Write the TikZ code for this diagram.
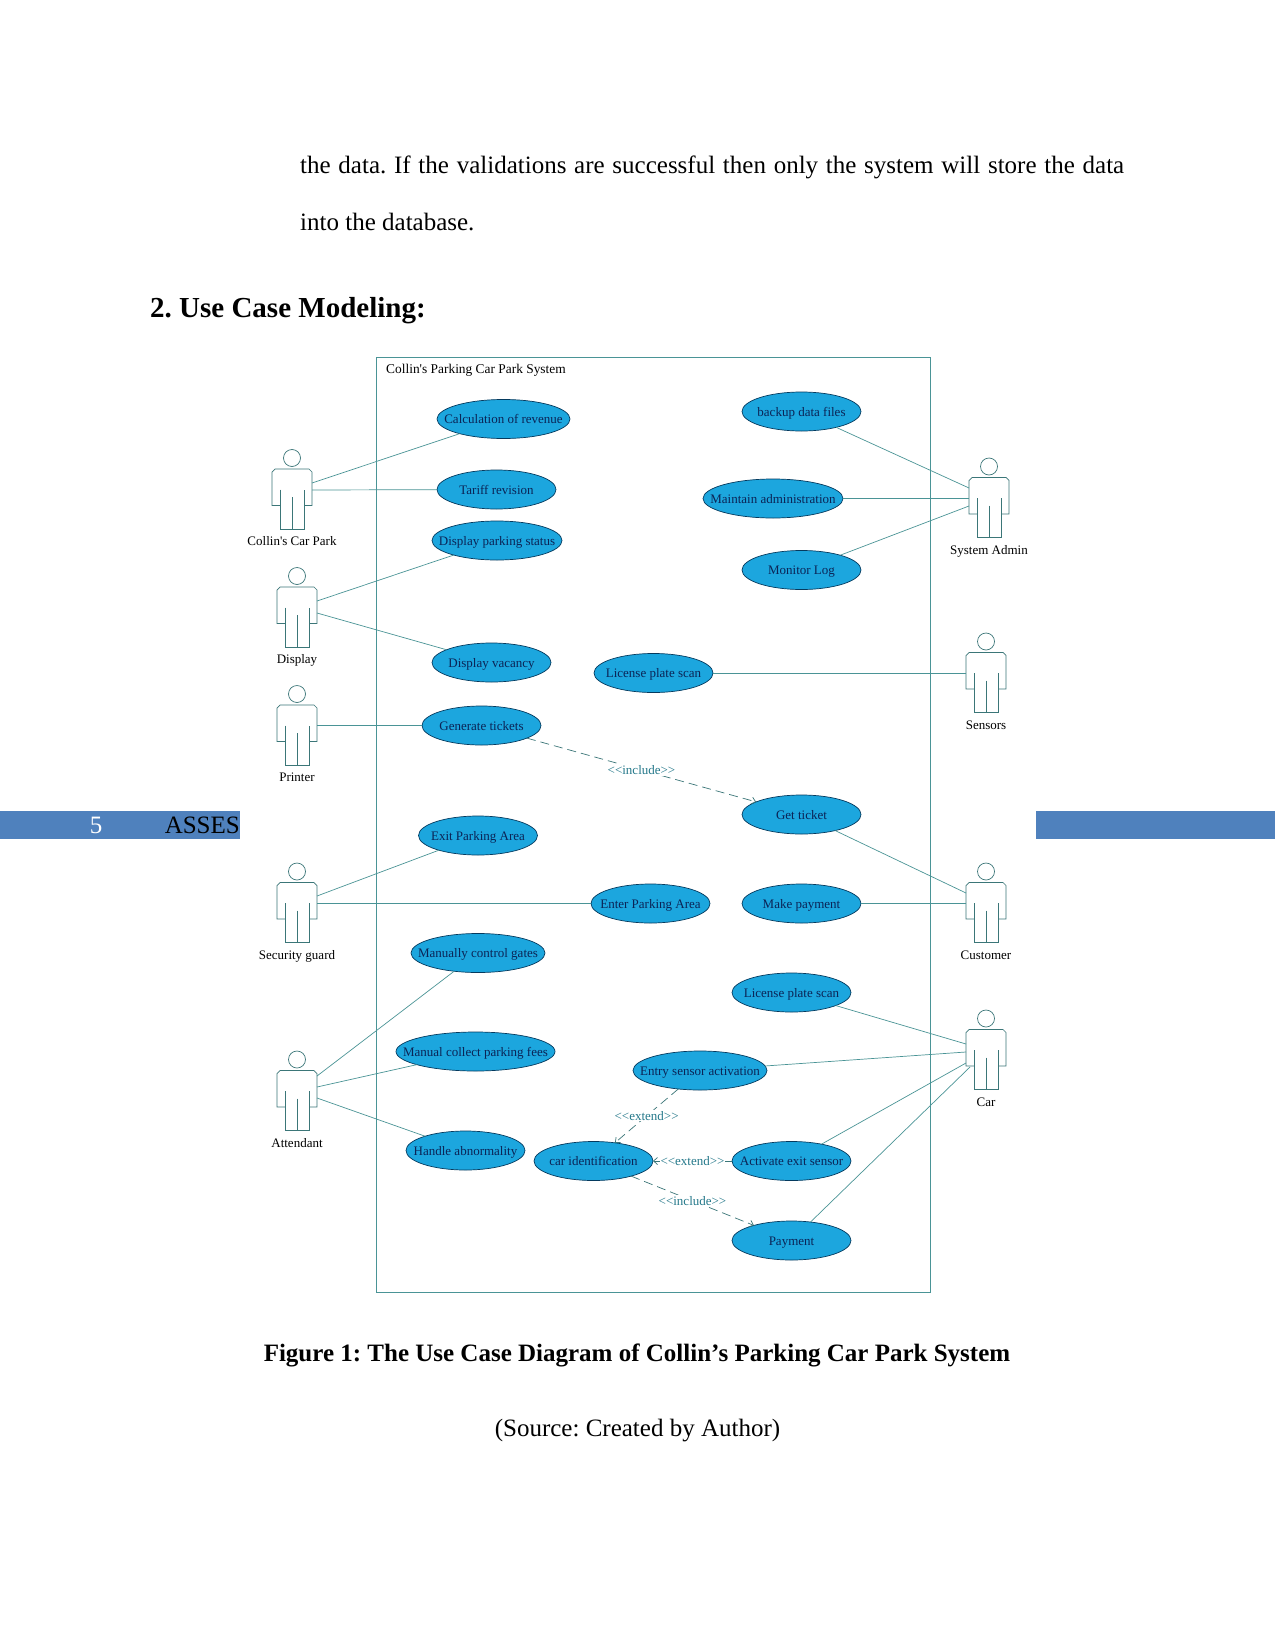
\documentclass[tikz,border=0pt]{standalone}
\usepackage{fontspec}
\setmainfont{Liberation Serif}
\newfontfamily\umlfont{Liberation Serif}
\usepackage{xcolor}
\usepackage{tikz}
\usetikzlibrary{arrows.meta, positioning, shapes.geometric}
\frenchspacing

\definecolor{umlline}{HTML}{4A9496}
\definecolor{umlfill}{HTML}{1CA6DE}
\definecolor{umlstroke}{HTML}{053A5E}
\definecolor{umltext}{HTML}{0B2456}
\definecolor{umlnote}{HTML}{24788A}
\definecolor{bandblue}{HTML}{4F81BD}

% stick figure: name, x, y, caption
\newcommand{\actorman}[4]{
    \node (#1) [actorbox] at (#2,#3) {};
    \node (#1name) [actorname, below=6.5pt of #1] {#4};
    \draw[actorline, shift={(#2,#3)}] (-12,-9.8) -- (-12,29.5) -- (12,29.5) -- (12,-9.8);
    \draw[actorline, shift={(#2,#3)}] (-12,6) -- (-20,6) -- (-20,-27.5) -- (-17,-30.5) -- (17,-30.5) -- (20,-27.5) -- (20,6) -- (12,6);
    \draw[actorline, shift={(#2,#3)}] (0,-2.5) -- (0,29.5);
    \draw[actorline, shift={(#2,#3)}] (0,-41.5) circle[radius=8.5];
}

\begin{document}
\begin{tikzpicture}[x=1pt, y=-1pt, >={Straight Barb[length=4pt,width=7pt]},
    usecase/.style={draw=umlstroke, fill=umlfill, ellipse, line width=0.7pt, text=umltext, font=\umlfont\fontsize{13}{15}\selectfont, text height=10.5pt, text depth=1.5pt, minimum width=119pt, minimum height=39pt, inner xsep=-32pt, inner ysep=0pt, outer sep=0pt},
    actorbox/.style={rectangle, minimum width=40pt, minimum height=61pt, inner sep=0pt, outer sep=0pt},
    actorname/.style={font=\umlfont\fontsize{13}{15}\selectfont, text height=9pt, text depth=3pt, inner sep=0pt},
    actorline/.style={draw=umlline!80!black, line width=0.7pt},
    assoc/.style={draw=umlline, line width=0.7pt},
    depend/.style={draw=umlline!80!black, line width=0.7pt, dash pattern=on 9pt off 5pt, ->},
    stereotype/.style={fill=white, text=umlnote, font=\umlfont\fontsize{13}{15}\selectfont, inner xsep=1pt, inner ysep=1pt},
    bodytext/.style={anchor=base west, inner sep=0pt, font=\fontsize{25}{30}\selectfont},
    band/.style={fill=bandblue, draw=none}]

    % Page
    \fill[white] (0,0) rectangle (1275,1651);
    \useasboundingbox (0,0) rectangle (1275,1651);
    \node (line1) [bodytext] at (300,173) {\makebox[824pt][s]{the data. If the validations are successful then only the system will store the data}};
    \node (line2) [bodytext] at (300,230) {into the database.};
    \node (heading) [bodytext, font=\bfseries\fontsize{29}{34}\selectfont] at (150,317) {2. Use Case Modeling:};
    \node (caption) [bodytext, anchor=base, font=\bfseries\fontsize{25}{30}\selectfont] at (637,1361) {Figure 1: The Use Case Diagram of Collin’s Parking Car Park System};
    \node (source) [bodytext, anchor=base] at (637.5,1436) {(Source: Created by Author)};

    % Footer band
    \fill[band] (0,811) rectangle (240,839);
    \fill[band] (1036,811) rectangle (1275,839);
    \node (pageno) [bodytext, anchor=base, text=white] at (96,833) {5};
    \node (footer) [bodytext, anchor=base east] at (240,833) {ASSES};

    % System box
    \node (system) [draw=umlline, line width=0.9pt, rectangle, minimum width=554pt, minimum height=935pt, outer sep=0pt] at (653,824.5) {};
    \node (systemname) [anchor=west, inner sep=0pt, font=\umlfont\fontsize{13.4}{15}\selectfont] at (386,370) {Collin's Parking Car Park System};

    % Actors
    \actorman{collin}{292}{499.5}{Collin's Car Park}
    \actorman{display}{297}{617.5}{Display}
    \actorman{printer}{297}{735.5}{Printer}
    \actorman{guard}{297}{913}{Security guard}
    \actorman{attendant}{297}{1101}{Attendant}
    \actorman{admin}{989}{508}{System Admin}
    \actorman{sensors}{986}{683}{Sensors}
    \actorman{customer}{986}{913}{Customer}
    \actorman{car}{986}{1060}{Car}

    % Use cases
    \node (revenue) [usecase, minimum width=133pt] at (503.5,419) {Calculation of revenue};
    \node (tariff) [usecase] at (496.5,489.5) {Tariff revision};
    \node (status) [usecase, minimum width=130pt] at (497,540.5) {Display parking status};
    \node (vacancy) [usecase] at (491.5,662.5) {Display vacancy};
    \node (tickets) [usecase] at (481.5,725.5) {Generate tickets};
    \node (exitarea) [usecase] at (478,835.5) {Exit Parking Area};
    \node (enterarea) [usecase] at (650.5,903.5) {Enter Parking Area};
    \node (gates) [usecase, minimum width=134pt] at (478,953) {Manually control gates};
    \node (fees) [usecase, minimum width=159pt] at (475.5,1051.5) {Manual collect parking fees};
    \node (abnormal) [usecase] at (465.5,1150.5) {Handle abnormality};
    \node (backup) [usecase] at (801.5,411.5) {backup data files};
    \node (maintain) [usecase, minimum width=140pt] at (773,498.5) {Maintain administration};
    \node (monitor) [usecase] at (801.5,570) {Monitor Log};
    \node (scan) [usecase] at (653.5,673) {License plate scan};
    \node (ticket) [usecase] at (801.5,814.5) {Get ticket};
    \node (payment) [usecase] at (801.5,903.5) {Make payment};
    \node (carscan) [usecase] at (791.5,992.5) {License plate scan};
    \node (entry) [usecase, minimum width=134pt] at (700,1070.5) {Entry sensor activation};
    \node (identify) [usecase] at (593.5,1161) {car identification};
    \node (exitsensor) [usecase] at (791.5,1161) {Activate exit sensor};
    \node (pay) [usecase] at (791.5,1240.5) {Payment};

    % Associations
    \draw[assoc] ([yshift=16.5pt]collin.east) -- (revenue);
    \draw[assoc] ([yshift=9.5pt]collin.east) -- (tariff);
    \draw[assoc] ([yshift=16.5pt]display.east) -- (status);
    \draw[assoc] ([yshift=4.5pt]display.east) -- (vacancy);
    \draw[assoc] ([yshift=10pt]printer.east) -- (tickets);
    \draw[assoc] ([yshift=17pt]guard.east) -- (exitarea);
    \draw[assoc] ([yshift=9.5pt]guard.east) -- (enterarea);
    \draw[assoc] ([yshift=25pt]attendant.east) -- (gates);
    \draw[assoc] ([yshift=14pt]attendant.east) -- (fees);
    \draw[assoc] ([yshift=3pt]attendant.east) -- (abnormal);
    \draw[assoc] ([yshift=20pt]admin.west) -- (backup);
    \draw[assoc] ([yshift=9.5pt]admin.west) -- (maintain);
    \draw[assoc] ([yshift=2pt]admin.west) -- (monitor);
    \draw[assoc] ([yshift=10pt]sensors.west) -- (scan);
    \draw[assoc] ([yshift=20pt]customer.west) -- (ticket);
    \draw[assoc] ([yshift=9.5pt]customer.west) -- (payment);
    \draw[assoc] ([yshift=16pt]car.west) -- (carscan);
    \draw[assoc] ([yshift=8pt]car.west) -- (entry);
    \draw[assoc] ([yshift=-3pt]car.west) -- (exitsensor);
    \draw[assoc] ([xshift=4pt,yshift=-7pt]car.west) -- (pay);

    % Dependencies
    \draw[depend] (tickets) -- node (includeticket) [stereotype] {<<include>>} (ticket);
    \draw[depend] (entry) -- node (extendentry) [stereotype] {<<extend>>} (identify);
    \draw[depend] (exitsensor) -- node (extendexit) [stereotype] {<<extend>>} (identify);
    \draw[depend] (identify) -- node (includepay) [stereotype] {<<include>>} (pay);
\end{tikzpicture}
\end{document}
